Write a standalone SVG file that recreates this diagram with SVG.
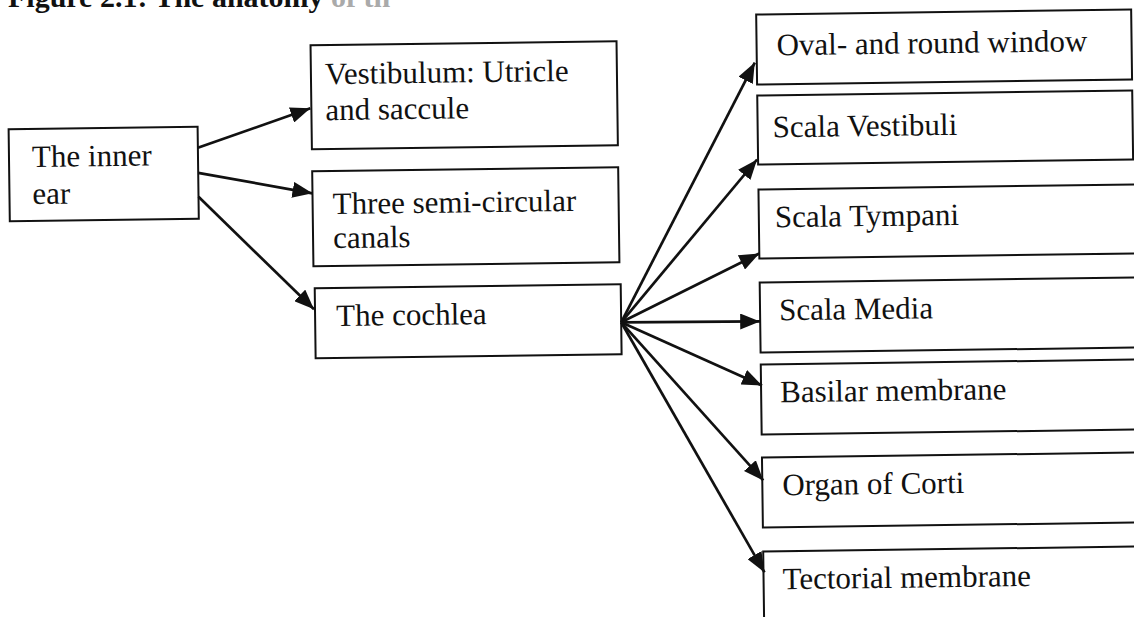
<svg xmlns="http://www.w3.org/2000/svg" width="1134" height="617" viewBox="0 0 1134 617">
<style>
.box{fill:#fff;stroke:#111;stroke-width:2}
.lbl{font-family:"Liberation Serif","Times New Roman",serif;font-size:31px;fill:#111}
.title{font-family:"Liberation Serif","Times New Roman",serif;font-size:30px;font-weight:bold;fill:#111}
.conn line{stroke:#111;stroke-width:2.7;marker-end:url(#ah)}
</style>
<defs>
<marker id="ah" markerUnits="userSpaceOnUse" viewBox="0 0 20 16" refX="20" refY="8" markerWidth="20" markerHeight="16" orient="auto">
<path d="M0,0L20,8L0,16z" fill="#111"/>
</marker>
</defs>
<rect width="1134" height="617" fill="#fff"/>
<text class="title" x="8" y="7">Figure 2.1: The anatomy<tspan fill="#aaa"> of th</tspan></text>
<g transform="rotate(-0.75 567 308)">
<g id="inner-ear"><rect class="box" x="11" y="122" width="189" height="92"/><text class="lbl" x="34" y="160">The inner</text><text class="lbl" x="34" y="197">ear</text></g>
<g id="vestibulum"><rect class="box" x="314" y="42" width="306" height="104"/><text class="lbl" x="328" y="81">Vestibulum: Utricle</text><text class="lbl" x="328" y="117">and saccule</text></g>
<g id="semicircular"><rect class="box" x="314" y="168" width="306" height="95"/><text class="lbl" x="334" y="211">Three semi-circular</text><text class="lbl" x="334" y="245">canals</text></g>
<g id="cochlea"><rect class="box" x="315" y="285" width="306" height="70"/><text class="lbl" x="336" y="323">The cochlea</text></g>
<g id="oval"><rect class="box" x="760" y="17" width="375" height="70"/><text class="lbl" x="780" y="58">Oval- and round window</text></g>
<g id="scala-vestibuli"><rect class="box" x="760" y="98" width="375" height="69"/><text class="lbl" x="775" y="140">Scala Vestibuli</text></g>
<g id="scala-tympani"><rect class="box" x="760" y="192" width="400" height="69"/><text class="lbl" x="776" y="230">Scala Tympani</text></g>
<g id="scala-media"><rect class="box" x="760" y="285" width="400" height="70"/><text class="lbl" x="779" y="323">Scala Media</text></g>
<g id="basilar"><rect class="box" x="760" y="367" width="400" height="70"/><text class="lbl" x="779" y="405">Basilar membrane</text></g>
<g id="corti"><rect class="box" x="760" y="460" width="400" height="70"/><text class="lbl" x="780" y="498">Organ of Corti</text></g>
<g id="tectorial"><rect class="box" x="760" y="554" width="400" height="80"/><text class="lbl" x="779" y="592">Tectorial membrane</text></g>
<g id="connectors" class="conn">
<line x1="200" y1="143" x2="313" y2="105"/>
<line x1="200" y1="168" x2="314" y2="190"/>
<line x1="200" y1="192" x2="314" y2="306"/>
<line x1="621" y1="323" x2="758" y2="65"/>
<line x1="621" y1="323" x2="759" y2="162"/>
<line x1="621" y1="323" x2="760" y2="256"/>
<line x1="621" y1="323" x2="760" y2="324"/>
<line x1="621" y1="323" x2="761" y2="388"/>
<line x1="621" y1="323" x2="761" y2="483"/>
<line x1="621" y1="323" x2="761" y2="575"/>
</g>
</g>
</svg>
